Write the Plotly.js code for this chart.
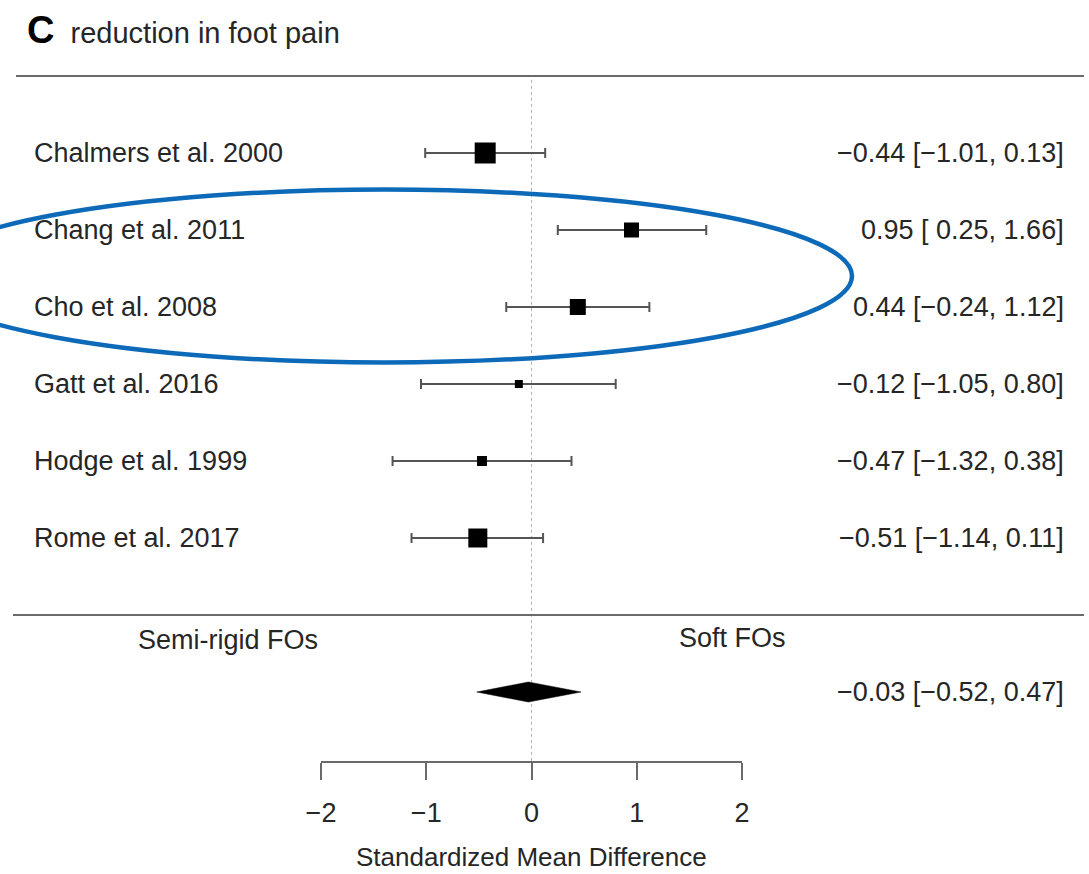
<!DOCTYPE html>
<html>
<head>
<meta charset="utf-8">
<script src="https://cdn.plot.ly/plotly-3.0.1.min.js"></script>
<style>html,body{margin:0;padding:0;background:#fff;}#chart{width:1089px;height:874px;}</style>
</head>
<body>
<div id="chart"></div>
<script>
// ---- data ----
const studies   = ["Chalmers et al. 2000", "Chang et al. 2011", "Cho et al. 2008", "Gatt et al. 2016", "Hodge et al. 1999", "Rome et al. 2017"];
const estimates = [-0.44, 0.95, 0.44, -0.12, -0.47, -0.51];
const lowerCI   = [-1.01, 0.25, -0.24, -1.05, -1.32, -1.14];
const upperCI   = [0.13, 1.66, 1.12, 0.80, 0.38, 0.11];
const weights   = [21, 15, 16, 8, 10, 19];          // relative square sizes as drawn
const rows      = [8, 7, 6, 5, 4, 3];
const summaryEst = -0.03, summaryLo = -0.52, summaryHi = 0.47, summaryRow = 1;
const tickVals  = [-2, -1, 0, 1, 2];
const leftLabel = "Semi-rigid FOs", rightLabel = "Soft FOs";
const axisTitle = "Standardized Mean Difference";

// ---- helpers ----
const fmt = v => (v < 0 ? "\u2212" : "") + Math.abs(v).toFixed(2);
const fmtCI = (e, l, u) => fmt(e) + " [" + (l < 0 ? "" : " ") + fmt(l) + ", " + fmt(u) + "]";

const W = 1089, H = 874;
const textFont = {family: "Liberation Sans, Arial, sans-serif", size: 27, color: "#262626"};
const lineCol = "#6a6a6a";

const traces = [
  {
    type: "scatter", mode: "markers",
    x: estimates, y: rows,
    marker: {symbol: "square", size: 1, opacity: 0},
    error_x: {type: "data", symmetric: false,
      array: estimates.map((e, i) => upperCI[i] - e),
      arrayminus: estimates.map((e, i) => e - lowerCI[i]),
      color: "#555", thickness: 2, width: 5},
    hoverinfo: "skip", showlegend: false
  },
  {
    type: "scatter", mode: "markers",
    x: estimates, y: rows,
    marker: {symbol: "square", size: weights, color: "#000", opacity: 1, line: {width: 0}},
    hoverinfo: "skip", showlegend: false
  },
  {
    type: "scatter", mode: "lines",
    x: [summaryLo, summaryEst, summaryHi, summaryEst, summaryLo],
    y: [summaryRow, summaryRow + 0.13, summaryRow, summaryRow - 0.13, summaryRow],
    fill: "toself", fillcolor: "#000", line: {width: 0.5, color: "#000"},
    hoverinfo: "skip", showlegend: false
  }
];

const topRow = Math.max(...rows) + 1;
const sepRow = Math.min(...rows) - 1;
const axisRow = 0.09;

const annotations = [];
studies.forEach((s, i) => {
  annotations.push({xref: "paper", yref: "y", x: 32 / W, y: rows[i], text: s,
    showarrow: false, xanchor: "left", yanchor: "middle", font: textFont});
  annotations.push({xref: "paper", yref: "y", x: 1066 / W, y: rows[i],
    text: fmtCI(estimates[i], lowerCI[i], upperCI[i]),
    showarrow: false, xanchor: "right", yanchor: "middle", font: textFont});
});
annotations.push({xref: "paper", yref: "y", x: 1066 / W, y: summaryRow,
  text: fmtCI(summaryEst, summaryLo, summaryHi), showarrow: false,
  xanchor: "right", yanchor: "middle", font: textFont});
annotations.push({xref: "paper", yref: "y", x: 228 / W, y: sepRow - 0.32, text: leftLabel,
  showarrow: false, xanchor: "center", yanchor: "middle", font: textFont});
annotations.push({xref: "paper", yref: "y", x: 732 / W, y: sepRow - 0.30, text: rightLabel,
  showarrow: false, xanchor: "center", yanchor: "middle", font: textFont});
annotations.push({xref: "x", yref: "paper", x: 0, y: 1 - 857 / H, text: axisTitle,
  showarrow: false, xanchor: "center", yanchor: "middle",
  font: Object.assign({}, textFont, {size: 26})});

const shapes = [
  {type: "line", xref: "paper", yref: "y", x0: 16 / W, x1: 1084 / W, y0: topRow, y1: topRow,
   line: {color: lineCol, width: 2}},
  {type: "line", xref: "paper", yref: "y", x0: 13 / W, x1: 1084 / W, y0: sepRow, y1: sepRow,
   line: {color: lineCol, width: 2}},
  {type: "line", xref: "x", yref: "y", x0: 0, x1: 0, y0: topRow - 0.05, y1: axisRow,
   line: {color: "#b0b0b0", width: 1, dash: "dot"}, layer: "below"},
  {type: "circle", xref: "paper", yref: "paper",
   x0: -82 / W, x1: 852 / W, y0: 1 - 362.5 / H, y1: 1 - 189.5 / H,
   line: {color: "#0d6ab8", width: 4.5}}
];

const layout = {
  width: W, height: H,
  margin: {l: 0, r: 0, t: 0, b: 0, pad: 0},
  paper_bgcolor: "#fff", plot_bgcolor: "rgba(0,0,0,0)",
  title: {
    text: '<b><span style="font-size:38px;color:#000">C</span></b>  reduction in foot pain',
    x: 27 / W, xanchor: "left", xref: "paper",
    y: 1 - 33 / H, yanchor: "middle", yref: "paper",
    font: {family: "Liberation Sans, Arial, sans-serif", size: 29, color: "#262626"}
  },
  xaxis: {
    domain: [321 / W, 742 / W], range: [-2, 2],
    anchor: "free", position: 1 - 762 / H,
    tickmode: "array", tickvals: tickVals, ticktext: tickVals.map(v => v < 0 ? "\u2212" + Math.abs(v) : String(v)),
    ticks: "outside", ticklen: 17, tickwidth: 2, tickcolor: lineCol,
    showline: true, linecolor: lineCol, linewidth: 2,
    showgrid: false, zeroline: false, fixedrange: true,
    ticklabelstandoff: 10,
    tickfont: textFont
  },
  yaxis: {
    domain: [0, 1], range: [8 - (H - 153) / 77, 8 + 153 / 77],
    visible: false, showgrid: false, zeroline: false, fixedrange: true
  },
  showlegend: false, hovermode: false,
  annotations: annotations, shapes: shapes
};

Plotly.newPlot("chart", traces, layout, {displayModeBar: false, staticPlot: true});
</script>
</body>
</html>
